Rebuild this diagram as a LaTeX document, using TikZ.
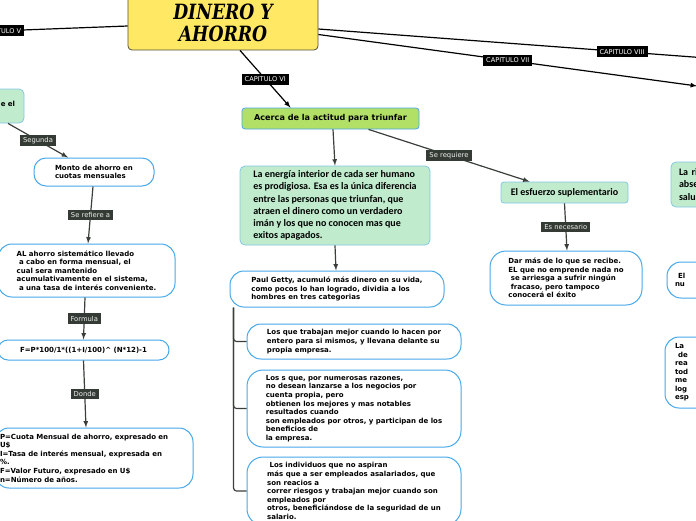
\documentclass[tikz,border=0pt]{standalone}
\usepackage{fontspec}
\setmainfont{DejaVu Sans}
\newfontfamily\calfont{Carlito}
\newfontfamily\titlefont{DejaVu Serif}
\usetikzlibrary{arrows}
\definecolor{titlefill}{RGB}{255,232,100}
\definecolor{titleline}{RGB}{80,80,60}
\definecolor{mint}{RGB}{192,235,205}
\definecolor{lime}{RGB}{178,224,102}
\definecolor{boxblue}{RGB}{70,168,232}
\definecolor{paleblue}{RGB}{130,200,230}
\definecolor{tagfill}{RGB}{52,59,52}
\definecolor{linkgray}{RGB}{58,63,58}
\begin{document}
\begin{tikzpicture}[x=1pt, y=-1pt, >=latex,
  chapter/.style={fill=black, text=white, font=\fontsize{6.6}{7}\selectfont, inner xsep=3pt, inner ysep=3pt},
  tag/.style={fill=tagfill, text=white!88!gray, font=\fontsize{6.8}{7.5}\selectfont, inner xsep=3pt, inner ysep=2.5pt},
  whitebox/.style={draw=boxblue, line width=1pt, fill=white, rounded corners=12pt, align=left, inner sep=2pt,
    font=\fontsize{7}{8.6}\selectfont\bfseries},
  greenbox/.style={draw=paleblue, line width=0.8pt, fill=mint, rounded corners=5pt, align=left, inner sep=2pt,
    font=\fontsize{10}{12.2}\selectfont\calfont\bfseries},
  link/.style={line width=1.2pt, draw=linkgray},
  mainlink/.style={line width=1.2pt, draw=black},
]
\useasboundingbox (0,0) rectangle (696,520);

\node[draw=titleline, line width=0.8pt, fill=titlefill, rounded corners=4pt, minimum width=190pt, minimum height=55pt,
  align=center, font=\fontsize{21}{22}\selectfont\titlefont\bfseries\itshape] (title) at (223,22.5)
  {\scalebox{0.82}[1]{DINERO Y}\\\scalebox{0.82}[1]{AHORRO}};

\node[draw=paleblue, line width=0.8pt, fill=mint, rounded corners=5pt, minimum width=84pt, minimum height=34pt,
  text width=66pt, inner xsep=9pt, align=right, font=\fontsize{7}{8.6}\selectfont\bfseries] (prev) at (-18,106)
  {\raisebox{5pt}{e el}};
\node[whitebox, minimum width=120pt, minimum height=28pt] (monto) at (94,172)
  {Monto de ahorro en\\cuotas mensuales};
\node[whitebox, minimum width=177pt, minimum height=53pt, rounded corners=14pt] (sistema) at (86.5,270.5)
  {AL ahorro sistemático llevado\\\ a cabo en forma mensual, el\\cual sera mantenido\\acumulativamente en el sistema,\\\ a una tasa de interés conveniente.};
\node[whitebox, minimum width=171pt, minimum height=20pt, rounded corners=10pt] (formula) at (83.5,350)
  {F=P*100/1*((1+I/100)\textasciicircum{} (N*12)-1};
\node[whitebox, minimum width=198pt, minimum height=60pt, text width=188pt, inner xsep=5pt, rounded corners=14pt] (legend) at (94,458)
  {P=Cuota Mensual de ahorro, expresado en\\U\$\\I=Tasa de interés mensual, expresada en\\\%.\\F=Valor Futuro, expresado en U\$\\n=Número de años.};

\node[draw=boxblue, line width=0.8pt, fill=lime, rounded corners=3pt, minimum width=177pt, minimum height=21pt,
  font=\fontsize{8.1}{9}\selectfont\bfseries] (acerca) at (330.5,118.5) {Acerca de la actitud para triunfar};
\node[greenbox, minimum width=190pt, minimum height=79pt] (energia) at (335,205.5)
  {La energía interior de cada ser humano\\es prodigiosa. Esa es la única diferencia\\entre las personas que triunfan, que\\atraen el dinero como un verdadero\\imán y los que no conocen mas que\\exitos apagados.};
\node[whitebox, minimum width=214pt, minimum height=36pt, rounded corners=14pt] (getty) at (337,289)
  {Paul Getty, acumuló más dinero en su vida,\\como pocos lo han logrado, dividia a los\\hombres en tres categorias};
\node[whitebox, minimum width=214pt, minimum height=35pt, rounded corners=14pt] (cat1) at (354,341.5)
  {Los que trabajan mejor cuando lo hacen por\\entero para si mismos, y llevana delante su\\propia empresa.};
\node[whitebox, minimum width=214pt, minimum height=77pt, rounded corners=16pt] (cat2) at (354,408.5)
  {Los s que, por numerosas razones,\\no desean lanzarse a los negocios por\\cuenta propia, pero\\obtienen los mejores y mas notables\\resultados cuando\\son empleados por otros, y participan de los\\beneficios de\\la empresa.};
\node[whitebox, minimum width=214pt, minimum height=68pt, rounded corners=16pt] (cat3) at (354,491)
  {\ Los individuos que no aspiran\\más que a ser empleados asalariados, que\\son reacios a\\correr riesgos y trabajan mejor cuando son\\empleados por\\otros, beneficiándose de la seguridad de un\\salario.};

\node[greenbox, minimum width=127pt, minimum height=21pt, rounded corners=3pt] (esfuerzo) at (564.5,192.5)
  {El esfuerzo suplementario};
\node[whitebox, minimum width=152pt, minimum height=54pt, rounded corners=16pt] (dar) at (566,278)
  {Dar más de lo que se recibe.\\EL que no emprende nada no\\\ se arriesga a sufrir ningún\\\ fracaso, pero tampoco\\conocerá el éxito};

\node[greenbox, minimum width=60pt, minimum height=45pt, text width=44pt, inner xsep=8pt] (riqueza) at (701,184.5)
  {La ri\\abse\\salu};
\node[whitebox, minimum width=60pt, minimum height=36pt, text width=44pt, inner xsep=8pt, rounded corners=14pt] (nuevo) at (697,280)
  {\hspace{3pt}El\\nu};
\node[whitebox, minimum width=60pt, minimum height=71pt, text width=40pt, inner xsep=10pt, rounded corners=14pt,
  font=\fontsize{7}{8.5}\selectfont\bfseries] (ultimo) at (695,372.5)
  {La\\\hspace{3pt}de\\rea\\tod\\me\\log\\esp};

\coordinate (capVend) at (-30,32);
\coordinate (capVIIend) at (697,86);
\coordinate (capVIIIend) at (720,59);

\draw[mainlink] ([yshift=-3.5pt]title.west) -- node[chapter, pos=0.8] {CAPITULO V} (capVend);
\draw[mainlink, ->] ([xshift=17pt]title.south) -- node[chapter] {CAPITULO VI} ([xshift=-40pt]acerca.north);
\draw[mainlink, ->] ([yshift=-12pt]title.east) -- node[chapter, pos=0.5] {CAPITULO VII} (capVIIend);
\draw[mainlink] ([yshift=-6.5pt]title.east) -- node[chapter, pos=0.756] {CAPITULO VIII} (capVIIIend);

\draw[link, ->] ([xshift=26pt]prev.south) -- node[tag] {Segunda} ([xshift=-26pt]monto.north);
\draw[link, ->] ([xshift=-1pt]monto.south) -- node[tag] {Se refiere a} ([xshift=1.5pt]sistema.north);
\draw[link, ->] ([xshift=-1.5pt]sistema.south) -- node[tag] {Formula} (formula.north);
\draw[link, ->] (formula.south) -- node[tag] {Donde} ([xshift=-8pt]legend.north);

\draw[link, ->] ([xshift=2.5pt]acerca.south) -- (energia.north);
\draw[link, ->] ([xshift=38pt]acerca.south) -- node[tag] {Se requiere} ([xshift=-35pt]esfuerzo.north);
\draw[link, ->] (energia.south) -- ([xshift=-1pt]getty.north);
\draw[link, rounded corners=3pt] ([xshift=4pt]getty.south west) |- (cat1.west);
\draw[link, rounded corners=3pt] ([xshift=4pt]getty.south west) |- (cat2.west);
\draw[link, rounded corners=3pt] ([xshift=4pt]getty.south west) |- (cat3.west);
\draw[link, ->] (esfuerzo.south) -- node[tag] {Es necesario} ([xshift=1pt]dar.north);
\end{tikzpicture}
\end{document}
